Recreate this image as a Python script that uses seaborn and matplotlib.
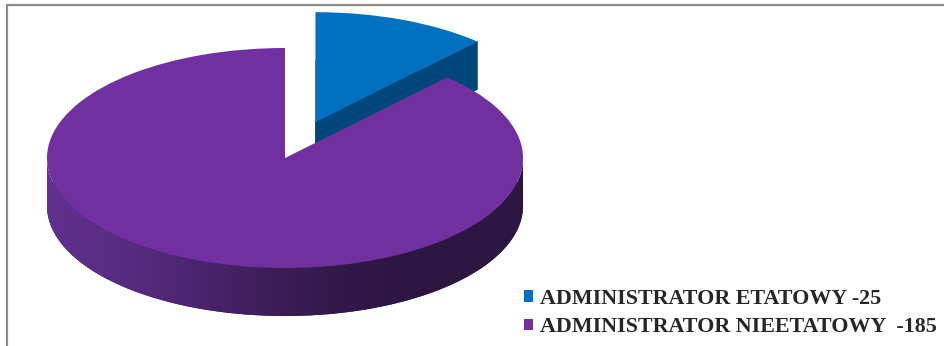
import numpy as np
import matplotlib
matplotlib.use("Agg")
import matplotlib.pyplot as plt
import seaborn as sns
from matplotlib.patches import Polygon
from matplotlib.lines import Line2D
from matplotlib.colors import LinearSegmentedColormap

# ---- data ----
categories = ["ADMINISTRATOR ETATOWY -25", "ADMINISTRATOR NIEETATOWY  -185"]
values = [25, 185]
top_colors = ["#0070C0", "#7030A0"]
side_colors = ["#00467A", "#3A1C55"]

sns.set_theme(style="white")
plt.rcParams['font.family'] = ['Liberation Serif', 'DejaVu Serif']

W, H = 945, 346
fig = plt.figure(figsize=(W / 100, H / 100), dpi=100)
ax = fig.add_axes([0, 0, 1, 1])

# pixel geometry of the pie
cx, cy, rx, ry, depth_px = 285, 158, 238, 110, 48
depth = depth_px / ry
explode = [0.35, 0.0]

# bottom (extruded) layer
ax.pie(values, colors=side_colors, startangle=90, counterclock=False,
       explode=explode, center=(0, -depth), radius=1,
       wedgeprops=dict(linewidth=0))
# top layer
wedges, _ = ax.pie(values, colors=top_colors, startangle=90, counterclock=False,
                   explode=explode, center=(0, 0), radius=1,
                   wedgeprops=dict(linewidth=0), labels=None)

wb, wp = wedges
# purple rim (visible front arc)
c = np.array(wp.center); r = wp.r
th = np.radians(np.linspace(180, 360, 200))
top_arc = np.c_[c[0] + r * np.cos(th), c[1] + r * np.sin(th)]
bot_arc = top_arc[::-1] - np.array([0, depth])
rim = Polygon(np.vstack([top_arc, bot_arc]), closed=True, transform=ax.transData,
              facecolor="none", edgecolor="none")
ax.add_patch(rim)
cmap = LinearSegmentedColormap.from_list(
    "rim", ["#62308F", "#552A7D", "#442062", "#33184A", "#2C1540", "#2E1743"])
grad = np.linspace(0, 1, 256)[None, :]
im = ax.imshow(grad, cmap=cmap, aspect="auto",
               extent=(c[0] - r, c[0] + r, c[1] - r - depth, c[1] + 0.1),
               zorder=1.5)
im.set_clip_path(rim)

# blue cut face at its clockwise edge
cb = np.array(wb.center); t1 = np.radians(wb.theta1)
corner = cb + wb.r * np.array([np.cos(t1), np.sin(t1)])
face = np.array([cb, corner, corner - [0, depth], cb - [0, depth]])
ax.add_patch(Polygon(face, closed=True, facecolor=side_colors[0],
                     edgecolor=side_colors[0], linewidth=0.5, zorder=1.5))

for w in wedges:
    w.set_zorder(2)

ax.set_aspect("auto")
ax.set_xlim(-cx / rx, (W - cx) / rx)
ax.set_ylim(-(H - cy) / ry, cy / ry)
ax.axis("off")

leg = ax.legend(wedges, categories, loc="upper left",
                bbox_to_anchor=(515 / W, 1 - 280 / H), frameon=False,
                handlelength=0.43, handleheight=0.43,
                handletextpad=0.3, labelspacing=0.38, borderaxespad=0,
                prop=dict(family="Liberation Serif", weight="bold", size=15.8))

# outer frame (top and left edges visible)
fig.add_artist(Line2D([7.5 / W, 1.0], [1 - 4.5 / H, 1 - 4.5 / H],
                      transform=fig.transFigure, color="#8C8C8C", lw=1.6))
fig.add_artist(Line2D([7.5 / W, 7.5 / W], [0, 1 - 4.5 / H],
                      transform=fig.transFigure, color="#8C8C8C", lw=1.6))

fig.savefig("out.png", dpi=100)
